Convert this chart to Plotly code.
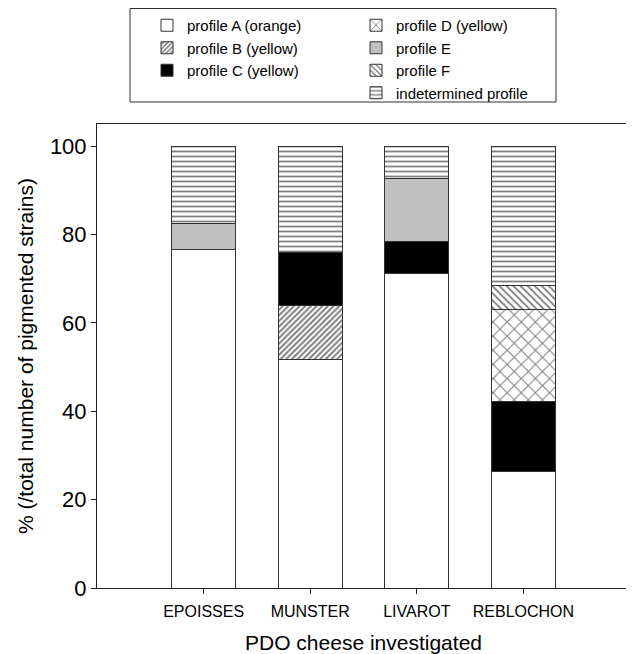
import plotly.graph_objects as go

cheeses = ["EPOISSES", "MUNSTER", "LIVAROT", "REBLOCHON"]
profile_a = [76.5, 51.8, 71.1, 26.3]
profile_b = [None, 12.1, None, None]
profile_c = [None, 12.0, 7.3, 15.8]
profile_d = [None, None, None, 21.0]
profile_e = [5.9, None, 14.2, None]
profile_f = [None, None, None, 5.3]
indetermined = [17.6, 24.1, 7.4, 31.6]

series = [
    ("profile A (orange)", profile_a, dict(color="white"), "legend"),
    ("profile B (yellow)", profile_b, dict(color="white", pattern=dict(shape="/", size=4, solidity=0.5, fgcolor="black", bgcolor="white")), "legend"),
    ("profile C (yellow)", profile_c, dict(color="black"), "legend"),
    ("profile D (yellow)", profile_d, dict(color="white", pattern=dict(shape="x", size=10, solidity=0.2, fgcolor="black", bgcolor="white")), "legend2"),
    ("profile E", profile_e, dict(color="#c0c0c0"), "legend2"),
    ("profile F", profile_f, dict(color="white", pattern=dict(shape="\\", size=5, solidity=0.35, fgcolor="black", bgcolor="white")), "legend2"),
    ("indetermined profile", indetermined, dict(color="white", pattern=dict(shape="-", size=5, solidity=0.35, fgcolor="black", bgcolor="white")), "legend2"),
]

fig = go.Figure()
for name, vals, marker, leg in series:
    marker = dict(marker)
    marker["line"] = dict(color="#333333", width=1)
    fig.add_trace(go.Bar(x=cheeses, y=vals, name=name, marker=marker, legend=leg))

# page body margin offsets the figure by 8px
OFF = 8
W, H = 634 - OFF, 654 - OFF
L, R, T, B = 97 - OFF, 4, 124 - OFF, 66
pw, ph = W - L - R, H - T - B

def px_x(x):
    return (x - OFF - L) / pw

def px_y(y):
    return (H - B - (y - OFF)) / ph

font = "Liberation Sans, Arial, sans-serif"
legend_common = dict(
    font=dict(family=font, size=15, color="black"),
    bgcolor="rgba(0,0,0,0)", borderwidth=0,
    xanchor="left", yanchor="top", tracegroupgap=0, traceorder="normal",
)
fig.update_layout(
    width=W, height=H,
    margin=dict(l=L, r=R, t=T, b=B, autoexpand=False),
    paper_bgcolor="white", plot_bgcolor="white",
    barmode="stack", bargap=0.4,
    font=dict(family=font, color="black"),
    showlegend=True,
    legend=dict(x=px_x(147), y=px_y(9), **legend_common),
    legend2=dict(x=px_x(356), y=px_y(9), **legend_common),
    shapes=[dict(type="rect", xref="paper", yref="paper",
                 x0=px_x(130), x1=px_x(556), y0=px_y(102), y1=px_y(8.5),
                 line=dict(color="#333333", width=1), fillcolor="rgba(0,0,0,0)")],
)
fig.update_xaxes(
    range=[-1, 4], showline=True, linecolor="#222222", linewidth=1, mirror=True,
    ticks="outside", ticklen=5, tickcolor="#222222", automargin=False,
    tickfont=dict(size=16, family=font), ticklabelstandoff=4,
    title=dict(text="PDO cheese investigated", font=dict(size=21, family=font), standoff=22),
    showgrid=False,
)
fig.update_yaxes(
    range=[0, 105], tickvals=[0, 20, 40, 60, 80, 100],
    showline=True, linecolor="#222222", linewidth=1, mirror=True,
    ticks="outside", ticklen=5, tickcolor="#222222", automargin=False,
    tickfont=dict(size=22, family=font),
    title=dict(text="% (/total number of pigmented strains)", font=dict(size=21, family=font), standoff=10),
    showgrid=False, zeroline=False,
)
fig.write_html("out.html")
